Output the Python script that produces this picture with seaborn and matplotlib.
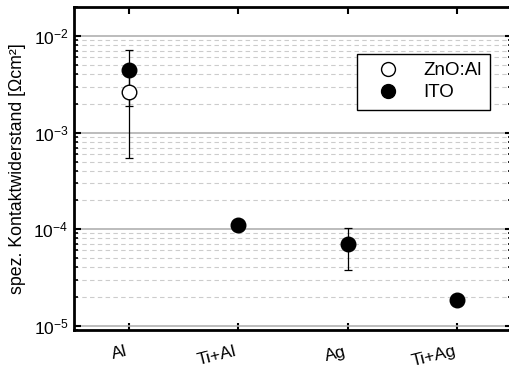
import matplotlib
matplotlib.use("Agg")
import matplotlib.pyplot as plt
import seaborn as sns
import pandas as pd
import numpy as np
from matplotlib.ticker import LogLocator, LogFormatterMathtext, NullFormatter
from matplotlib.lines import Line2D

# data
categories = ["Al", "Ti+Al", "Ag", "Ti+Ag"]
zno_cats = ["Al"]
zno_vals = [2.65e-3]
zno_err = [2.1e-3]
ito_vals = [4.5e-3, 1.1e-4, 7.0e-5, 1.85e-5]
ito_err = [2.6e-3, 1.2e-5, 3.2e-5, 1.0e-6]
series_names = ["ZnO:Al", "ITO"]

sns.set_style("ticks")
plt.rcParams['font.family'] = ['Liberation Sans', 'DejaVu Sans']
plt.rcParams['mathtext.fontset'] = 'custom'
plt.rcParams['mathtext.rm'] = 'Liberation Sans'
plt.rcParams['text.color'] = 'black'
plt.rcParams['xtick.color'] = 'black'
plt.rcParams['ytick.color'] = 'black'
plt.rcParams['axes.labelcolor'] = 'black'

fig = plt.figure(figsize=(5.09, 3.69), dpi=100)
ax = fig.add_axes([74/509, 39/369, 438/509, 323/369])

df_ito = pd.DataFrame({"cat": categories, "val": ito_vals, "err": ito_err})
df_zno = pd.DataFrame({"cat": zno_cats, "val": zno_vals, "err": zno_err})

xpos_ito = [categories.index(c) for c in df_ito["cat"]]
xpos_zno = [categories.index(c) for c in df_zno["cat"]]

ax.errorbar(xpos_ito, df_ito["val"], yerr=df_ito["err"], fmt="none",
            ecolor="black", elinewidth=0.9, capsize=3, capthick=0.9, zorder=3)
ax.errorbar(xpos_zno, df_zno["val"], yerr=df_zno["err"], fmt="none",
            ecolor="black", elinewidth=0.9, capsize=3, capthick=0.9, zorder=3)

sns.scatterplot(x=xpos_zno, y=df_zno["val"], ax=ax, marker="o", s=110,
                facecolor="white", edgecolor="black", linewidth=1.0, zorder=4)
sns.scatterplot(x=xpos_ito, y=df_ito["val"], ax=ax, marker="o", s=110,
                color="black", edgecolor="black", linewidth=1.0, zorder=5)

ax.set_yscale("log")
ax.set_ylim(9.0e-6, 2.0e-2)
ax.set_xlim(-0.5, 3.5)
ax.set_xticks(range(len(categories)))
ax.set_xticklabels(categories, rotation=14, ha="right", fontsize=12.5)

ax.yaxis.set_major_locator(LogLocator(base=10, numticks=10))
ax.yaxis.set_major_formatter(LogFormatterMathtext())
ax.yaxis.set_minor_locator(LogLocator(base=10, subs=np.arange(2, 10), numticks=20))
ax.yaxis.set_minor_formatter(NullFormatter())
ax.tick_params(axis="y", which="major", direction="in", length=5, width=1.5,
               labelsize=12.5, left=True, right=True, pad=4)
ax.tick_params(axis="y", which="minor", direction="in", length=3, width=1.2,
               left=True, right=True)
ax.tick_params(axis="x", which="major", direction="in", length=5, width=1.5,
               top=True, bottom=True, labelsize=12.5, pad=10)

ax.grid(True, which="major", axis="y", color="#b0b0b0", linewidth=1.2, linestyle="-")
ax.grid(True, which="minor", axis="y", color="#cccccc", linewidth=0.8,
        linestyle=(0, (4, 3)))
ax.set_axisbelow(True)

for sp in ax.spines.values():
    sp.set_linewidth(2)
    sp.set_color("black")
    sp.set_visible(True)

ax.set_ylabel("spez. Kontaktwiderstand [Ωcm²]", fontsize=12.8, labelpad=5)
ax.set_xlabel("")

handles = [
    Line2D([], [], marker="o", linestyle="none", markersize=10,
           markerfacecolor="white", markeredgecolor="black"),
    Line2D([], [], marker="o", linestyle="none", markersize=10,
           markerfacecolor="black", markeredgecolor="black"),
]
leg = ax.legend(handles, series_names, loc="upper right",
                bbox_to_anchor=(0.95, 0.855), fontsize=13.5, frameon=True,
                fancybox=False, edgecolor="black", framealpha=1,
                borderpad=0.45, handletextpad=0.7, labelspacing=0.25,
                borderaxespad=0, handlelength=2.4)
leg.get_frame().set_linewidth(1.0)

fig.savefig("out.png", dpi=100)
